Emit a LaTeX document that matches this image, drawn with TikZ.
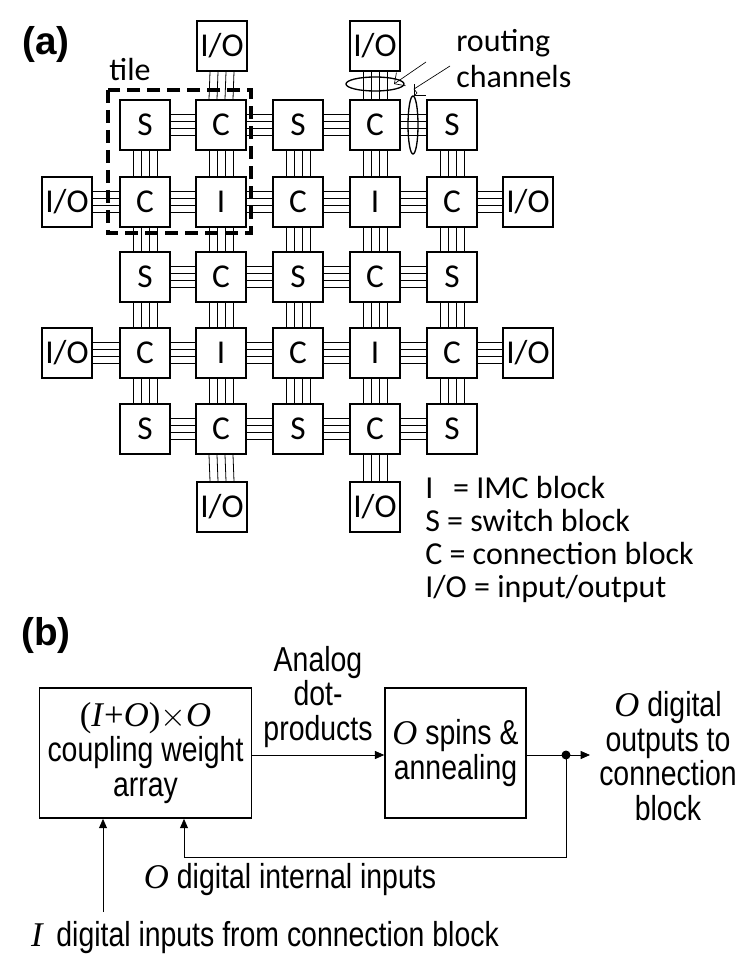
\documentclass[tikz,border=0pt]{standalone}
\usepackage{fontspec}
\setmainfont{Liberation Sans}
\newfontfamily\sfa{Carlito}
\newfontfamily\nar[FakeStretch=0.82]{Liberation Sans}
\newfontfamily\tms{Liberation Serif}
\usetikzlibrary{arrows.meta}
\begin{document}
\begin{tikzpicture}[x=0.75pt,y=-0.75pt,
  blk/.style={draw,line width=1.6pt,fill=white,minimum width=37pt,minimum height=37pt,inner sep=0pt,font=\sfa\fontsize{25}{25}\selectfont},
  chan/.style={line width=0.6pt},
  lbl/.style={font=\sfa\fontsize{24}{24}\selectfont,anchor=west,inner sep=0pt},
  bx/.style={draw,line width=1.3pt,inner sep=0pt},
  btxt/.style={font=\nar\fontsize{26}{26}\selectfont,align=center,inner sep=0pt},
  arr/.style={-{Triangle[length=7pt,width=6pt]},line width=0.6pt}]
\useasboundingbox (0,0) rectangle (754,973);
\node[font=\bfseries\fontsize{29}{29}\selectfont] (la) at (46,45) {(a)};
\node[font=\sfa\fontsize{24}{24}\selectfont] (tile) at (130,70) {tile};
% grid
\foreach \r/\y in {1/125,2/202,3/277,4/353,5/429}{
  \foreach \c/\x in {1/145,2/221,3/298,4/375,5/452}{
    \ifnum\r=2 \ifodd\c \def\lab{C}\else\def\lab{I}\fi
    \else\ifnum\r=4 \ifodd\c \def\lab{C}\else\def\lab{I}\fi
    \else \ifodd\c \def\lab{S}\else\def\lab{C}\fi\fi\fi
    \node[blk] (b-\r-\c) at (\x,\y) {\lab};
  }}
\node[blk] (io-t1) at (222,46) {I/O};
\node[blk] (io-t2) at (375,46) {I/O};
\node[blk] (io-b1) at (222,507) {I/O};
\node[blk] (io-b2) at (375,507) {I/O};
\node[blk] (io-l1) at (67,202) {I/O};
\node[blk] (io-l2) at (67,353) {I/O};
\node[blk] (io-r1) at (528,202) {I/O};
\node[blk] (io-r2) at (528,353) {I/O};
\newcommand\hch[2]{\foreach \o in {-10.5,-3.5,3.5,10.5}{\draw[chan] ([yshift=\o*0.75pt]#1.east) -- ([yshift=\o*0.75pt]#2.west);}}
\newcommand\vch[2]{\foreach \o in {-12,-4,4,12}{\draw[chan] ([xshift=\o*0.75pt]#1.south) -- ([xshift=\o*0.75pt]#2.north);}}
\foreach \r in {1,...,5}{\foreach \c/\d in {1/2,2/3,3/4,4/5}{\hch{b-\r-\c}{b-\r-\d}}}
\foreach \c in {1,...,5}{\foreach \r/\s in {1/2,2/3,3/4,4/5}{\vch{b-\r-\c}{b-\s-\c}}}
\hch{io-l1}{b-2-1}\hch{io-l2}{b-4-1}\hch{b-2-5}{io-r1}\hch{b-4-5}{io-r2}
\vch{io-t1}{b-1-2}\vch{io-t2}{b-1-4}\vch{b-5-2}{io-b1}\vch{b-5-4}{io-b2}
% tile
\draw[line width=2.6pt,dash pattern=on 10pt off 5pt] (108,90) rectangle (251,233);
% routing channels
\draw[line width=1pt] (375,84) ellipse [x radius=29,y radius=7];
\draw[line width=1pt] (413,125) ellipse [x radius=5,y radius=29];
\node[lbl] (rt) at (456,43) {routing};
\node[lbl] (ch) at (456,77) {channels};
\draw[-{Straight Barb[length=6pt]},line width=0.5pt] (426,62) -- (394,84);
\draw[-{Straight Barb[length=6pt]},line width=0.5pt] (450,66) -- (414,89) -- (417,93) -- (414,96);
% legend
\node[lbl] (l1) at (425,487) {I \ \,= IMC block};
\node[lbl] (l2) at (425,521) {S = switch block};
\node[lbl] (l3) at (425,554) {C = connection block};
\node[lbl] (l4) at (425,589) {I/O = input/output};
% (b)
\node[font=\bfseries\fontsize{29}{29}\selectfont] (lb) at (46,635) {(b)};
\node[bx,minimum width=159pt,minimum height=97.5pt] (w) at (145.5,753) {};
\node[btxt] (wt) at (w) {{\tms\fontsize{26}{26}\selectfont(\textit{I}+\textit{O})$\times$\textit{O}}\\coupling weight\\array};
\node[bx,minimum width=105.5pt,minimum height=97.5pt] (sp) at (455.5,753) {};
\node[btxt] (spt) at (sp) {{\tms\itshape O} spins \&\\annealing};
\draw[arr] (w.east |- 0,755) -- (sp.west |- 0,755) coordinate (spin);
\node[btxt] (adp) at (318,697) {Analog\\dot-\\products};
\coordinate (dot) at (566,755);
\draw[arr] (sp.east |- dot) -- (590,755) coordinate (outend);
\fill (dot) circle (4.5);
\coordinate (fbr) at (566,857);
\coordinate (fbl) at (184,857);
\draw[arr] (dot) -- (fbr) -- (fbl) -- (fbl |- w.south);
\coordinate (inb) at (103,912);
\draw[arr] (inb) -- (inb |- w.south);
\node[btxt] (ot) at (668,756) {{\tms\itshape O} digital\\outputs to\\connection\\block};
\node[btxt] (oi) at (290,880) {{\tms\itshape O} digital internal inputs};
\node[btxt] (ii) at (265,938) {{\tms\itshape I}\, digital inputs from connection block};
\end{tikzpicture}
\end{document}
